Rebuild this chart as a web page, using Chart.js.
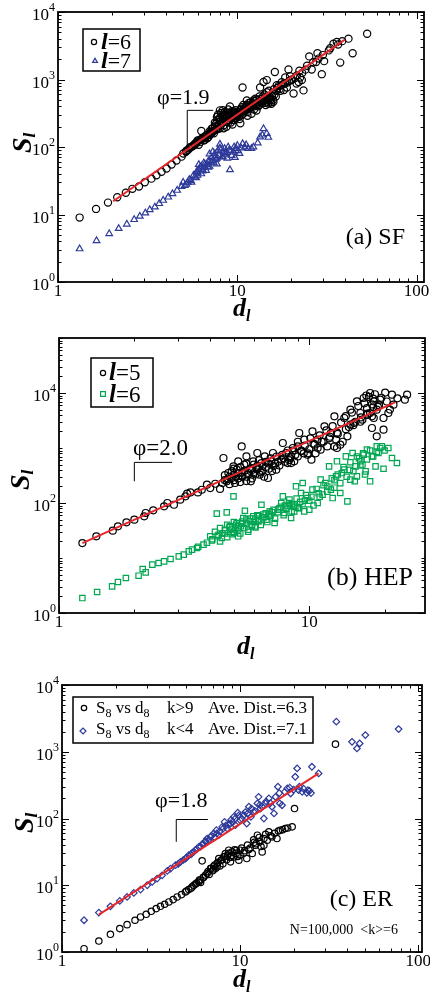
<!DOCTYPE html>
<html>
<head>
<meta charset="utf-8">
<script src="https://cdn.jsdelivr.net/npm/chart.js@4/dist/chart.umd.min.js"></script>
<style>
  body { margin: 0; background: #fff; }
  canvas { position: absolute; left: 0; }
</style>
</head>
<body>
<canvas id="sf" width="430" height="330" style="top:0"></canvas>
<canvas id="hep" width="430" height="330" style="top:330px"></canvas>
<canvas id="er" width="430" height="339" style="top:660px"></canvas>
<script>
// (a) SF, l=6
const sfD6 = [1.32,1.63,1.90,2.14,2.39,2.60,2.83,3.05,3.32,3.54,3.78,4.03,4.30,4.58,4.89,5.17,5.44,5.8,6.2,6.3,7.2,6.6,7.0,8.0,9.1,7.7,8.0,8.5,8.7,9.5,9.9,10.4,10.7,11.3,11.5,12.3,12.0,12.8,13.4,14.0,14.6,14.6,14.0,15.2,15.5,15.9,16.2,16.6,17.7,18.5,18.9,19.3,20.6,19.7,21.4,22.4,22.9,23.4,22.2,25.2,26.0,27.5,28.4,28,29.6,30.5,32.4,34.4,35.9,37.5,41.7,44,53,
  5.0,5.3,5.5,5.7,5.9,6.0,6.1,6.4,6.5,6.8,6.9,7.1,7.3,7.4,7.5,7.6,7.8,7.9,8.1,8.2,8.3,8.4,8.6,8.8,8.9,9.0,9.2,9.3,9.4,9.6,9.7,9.8,10.0,10.2,10.3,10.5,10.6,10.8,11.0,11.2,11.4,11.6,11.8,12.1,12.4,12.6,12.9,13.1,13.3,13.6,13.8,14.2,14.4,14.8,15.0,15.3,15.7,16.0,16.4,17.0,17.4,18.0,18.2,19.0,20.0,21.0,23.0,24.0,
  5.2,5.4,5.6,5.8,6.0,6.2,6.3,6.5,6.6,6.7,6.8,7.0,7.0,7.2,7.3,7.4,7.5,7.6,7.7,7.7,7.8,7.9,8.0,8.0,8.1,8.2,8.3,8.3,8.4,8.5,8.5,8.6,8.7,8.8,8.9,9.0,9.0,9.1,9.2,9.3,9.4,9.5,9.6,9.7,9.8,9.9,10.0,10.1,10.2,10.4,10.5,10.6,10.7,10.8,11.0,11.1,11.3,11.4,11.6,11.7,11.9,12.0,12.2,12.4,12.5,12.7,12.9,13.0,13.2,13.4,13.5,13.7,13.9,14.1,14.3,14.5,14.7,14.9,15.1,15.4,15.6,15.8,16.1,16.5,16.8,17.2,17.6,18.4,19.5,20.2,21.5,22.0,24.5,26.5,30.0,33.0,36.5,38.5];
const sfS6 = [9.0,12.1,15,18,21,24,26,30,34,38,43,48,55,63,72,85,98,112,128,173,187,141,158,349,398,278,234,294,199,251,310,224,760,490,389,490,310,347,760,918,980,650,490,550,437,467,1290,820,910,1070,760,1410,620,1120,870,1070,980,690,1350,2200,1410,1820,2040,2450,1200,1870,2700,3400,3600,1780,4030,2450,4770,
  80,90,100,105,115,120,108,135,125,150,140,165,170,160,200,220,185,260,210,300,245,190,270,320,230,280,260,340,215,300,270,350,290,330,260,370,300,420,340,400,290,450,380,420,360,520,430,400,560,460,520,600,420,560,680,500,620,720,560,800,680,850,700,900,980,1050,1250,1400,
  88,95,102,108,125,118,130,140,128,150,135,170,150,160,190,175,230,180,250,200,300,215,270,190,320,230,280,350,210,260,330,300,240,280,360,250,320,290,230,300,270,340,250,320,290,270,330,300,280,350,320,390,340,310,380,350,420,330,400,370,460,390,440,400,480,420,500,460,420,510,470,440,560,480,450,530,470,440,520,460,560,500,600,680,750,720,820,880,950,1000,1150,920,1600,1800,2300,2900,3300,3700];
// (a) SF, l=7
const sfD7 = [1.32,1.64,1.93,2.18,2.42,2.66,2.86,3.07,3.25,3.47,3.67,3.86,4.12,4.35,4.62,4.89,4.99,5.2,5.56,5.8,5.93,6.2,6.3,6.6,6.7,6.9,7.0,7.3,7.5,7.7,7.8,8.0,8.2,8.4,8.9,9.1,9.3,9.5,9.9,10.3,10.7,11,12.3,13.4,14.0,14.6,14.9,8.0,7.3,6.0,6.4,7.1,7.6,8.6,9.0,9.7,10.0,11.5,5.4,5.1,6.1,
  5.3,5.5,5.7,5.9,6.0,6.1,6.3,6.4,6.5,6.6,6.8,6.9,7.0,7.2,7.4,7.5,7.7,7.9,8.1,8.3,8.5,8.7,8.8,9.2,9.6,10.1,10.5,11.2,12.0,13.0,13.8];
const sfS7 = [3.1,4.1,5.2,6.2,7.2,8.4,9.4,10.5,11.8,12.9,14.5,16.2,18.1,20.3,22.8,26,30,28,30,36,43,50,40,56,45,50,79,63,71,56,89,110,71,85,100,46,75,84,94,80,112,100,100,141,187,158,139,97,85,38,47,60,66,78,90,70,105,95,33,27,55,
  30,32,38,35,42,46,52,44,58,50,55,62,52,70,58,80,68,75,90,72,95,82,68,88,100,88,97,108,95,115,150];
const sfFitD = [2.03, 39.8];
const sfFitS = [15.7, 3890];
const sfSlopeD = [5.26, 5.26, 7.34];
const sfSlopeS = [106, 349, 349];

// (b) HEP, l=5
const hepD5 = [1.24,1.41,1.64,1.72,1.86,2.0,2.19,2.22,2.38,2.63,2.71,2.88,3.05,3.2,3.25,3.35,3.59,3.72,3.90,4.02,4.21,4.40,4.54,4.68,4.75,4.90,4.98,5.05,5.13,5.2,5.37,5.37,5.5,5.61,5.7,5.84,5.97,6.15,6.34,6.44,6.64,6.84,7.05,7.16,7.38,7.73,7.84,8.08,8.2,8.46,8.71,8.99,9.12,9.27,9.55,9.84,10.2,10.3,10.5,10.8,11.1,11.5,11.8,12.2,12.6,12.8,12.9,13.3,13.8,14.2,14.6,14.6,15.1,15.5,16.0,16.3,16.5,17.0,17.5,17.8,17.8,18.1,18.6,18.6,19.2,19.8,19.8,20.1,20.7,21.4,21.7,24.1,24.6,17.5,18.1,12.6,8.46,6.2,
  4.6,4.8,5.0,5.2,5.4,5.6,5.9,6.0,6.2,6.5,6.7,6.9,7.2,7.5,7.9,8.3,8.6,9.0,9.5,10.0,10.6,11.2,12.0,13.0,14.0,15.0,16.0,17.0,18.0,19.0,
  4.5,4.6,4.7,4.8,4.9,5.0,5.0,5.1,5.2,5.3,5.3,5.4,5.5,5.6,5.6,5.7,5.8,5.9,6.0,6.1,6.2,6.3,6.4,6.5,6.6,6.7,6.9,7.0,7.1,7.3,7.4,7.6,7.8,8.0,8.2,8.4,8.6,8.8,9.0,9.3,9.6,9.9,10.1,10.4,10.8,11.0,11.4,11.7,12.1,12.4,12.9,13.4,13.6,14.0,14.4,14.8,15.3,15.7,16.1,16.6,17.1,17.3,17.8,18.3,18.8,19.4,20.4,21.0,22.5,16.9,18.0];
const hepS5 = [18.7,24.8,31.4,37.7,44.5,49.8,57.3,65.8,73.6,87,100,93,115,132,148,156,156,174,215,187,224,180,658,248,351,285,464,231,404,573,1070,305,498,705,351,248,573,433,327,533,705,285,573,811,404,614,1233,811,533,705,573,1070,1875,869,1418,757,614,2010,1150,1418,933,2476,1070,1875,3767,1418,1000,1150,3510,1630,4980,2650,2850,7050,4330,3270,8110,5330,10000,3767,2310,7050,4980,1630,7570,3510,2150,10200,4330,9330,6140,7570,9330,4330,3510,1070,533,811,
  260,300,330,280,360,300,400,350,480,380,450,520,470,560,650,600,900,700,800,950,800,1300,1500,1800,2200,2600,3000,4000,5500,6000,
  230,320,270,220,380,260,420,300,350,240,450,300,380,250,520,330,420,280,500,330,410,600,360,470,300,560,420,650,380,520,700,480,750,560,900,650,1000,750,1300,900,1100,800,1500,1200,1000,1700,1300,2100,1600,2500,1900,2900,1300,3800,2400,4400,3000,5800,3600,6500,4200,8500,6200,9500,5600,8200,7000,5000,8000,9000,7900];
// (b) HEP, l=6
const hepD6 = [1.24,1.42,1.63,1.72,1.85,2.08,2.16,2.22,2.36,2.50,2.63,2.79,3.01,3.15,3.30,3.40,3.56,3.78,4.02,4.08,4.27,4.34,4.47,4.61,4.68,4.82,4.98,4.98,5.13,5.2,5.33,5.45,5.53,5.7,5.79,5.97,6.06,6.25,6.44,6.54,6.74,6.95,7.27,7.5,7.73,7.84,7.96,8.2,8.33,8.46,8.71,8.85,8.99,9.27,9.41,9.55,9.84,10,10.3,10.8,11.1,11.3,11.6,12.0,12.2,12.4,12.8,12.9,13.3,13.8,14.0,14.2,14.6,14.9,15.3,15.5,16.0,16.5,16.8,17.0,17.5,17.8,18.4,18.6,18.9,19.5,20.7,21.4,22.4,
  4.2,4.4,4.6,4.7,4.9,5.0,5.2,5.4,5.6,5.9,6.1,6.3,6.6,6.9,7.1,7.6,8.0,8.5,8.8,9.2,9.6,10.2,10.9,11.8,12.6,13.5,14.5,15.8,16.3,
  3.6,3.9,4.1,4.3,4.4,4.5,4.6,4.7,4.8,4.9,5.0,5.1,5.2,5.3,5.4,5.5,5.6,5.7,5.8,5.9,6.0,6.1,6.2,6.3,6.4,6.5,6.7,6.8,7.0,7.2,7.3,7.5,7.7,7.9,8.1,8.3,8.5,8.7,8.9,9.1,9.4,9.7,10.0,10.4,10.7,11.0,11.4,11.8,12.3,12.6,13.0,13.3,13.7,14.1,14.6,15.0,15.5,16.0,16.4,17.0,17.5,18.0,18.6,19.2,20.0,16.7,15.2,19.8];
const hepS6 = [1.87,2.41,3.05,3.66,4.33,4.77,6.3,5.48,7.57,8.11,8.69,9.6,10.7,11.5,13.2,14.2,15.2,17.5,24.8,20.9,64,26.5,23.1,32.7,67.6,37.7,132,28.5,43.3,24.8,37.7,53.3,72.4,32.7,46.4,57.3,37.7,46.4,93,61.4,49.8,70.5,43.3,75.7,100,132,65.8,87,115,53.3,70.5,201,81,152,231,70.5,123,75.7,175,100,266,142,231,464,175,123,305,573,152,404,705,107,266,811,464,305,573,757,376,933,248,705,464,1070,811,1070,1000,658,533,
  30,35,28,40,33,45,38,42,50,40,52,58,55,62,68,80,90,95,85,105,110,130,150,200,260,350,400,650,500,
  16,19,22,25,20,28,32,24,36,27,30,40,33,28,46,35,42,30,52,38,45,36,60,48,40,55,65,45,58,75,52,68,85,60,78,100,70,90,120,80,95,140,110,90,180,130,210,160,280,190,330,230,450,300,550,380,700,480,800,620,900,700,850,1000,900,330,250,420];
const hepFitD = [1.24, 22.0];
const hepFitS = [18.7, 6760];
const hepSlopeD = [2.0, 2.0, 2.83];
const hepSlopeS = [248, 548, 548];

// (c) ER, k>9
const erD9 = [1.33,1.61,1.87,2.11,2.32,2.57,2.76,2.97,3.17,3.38,3.57,3.77,3.98,4.21,4.43,4.69,4.93,5.15,5.38,5.62,5.86,6.12,6.25,6.53,6.82,7.11,7.43,7.59,7.82,8.09,8.27,8.63,8.83,9.02,9.21,9.53,9.84,10.0,10.5,10.9,11.2,11.7,12.2,12.5,12.9,13.3,13.6,14.2,14.5,15.1,16.1,16.8,17.9,19.6,20.2,34.3,12,13.6,10,7.43,7.1,6,8.5,
  5.0,5.3,5.5,5.7,5.9,6.0,6.2,6.4,6.6,6.7,6.9,7.0,7.2,7.3,7.5,7.7,7.9,8.0,8.2,8.4,8.6,8.8,9.0,9.3,9.5,9.7,10.2,10.6,11.0,11.4,11.9,12.3,12.8,13.1,13.9,14.8,15.6,16.4,17.3,18.5];
const erS9 = [1.12,1.46,1.84,2.24,2.57,2.99,3.35,3.67,4.07,4.47,4.84,5.19,5.62,6.1,6.68,7.24,7.94,8.6,9.44,10.4,11.2,23.2,13.3,15,17.8,19.3,21.1,25.1,23.7,26.6,29.9,33.5,22.4,31.6,26.6,33.5,23.7,28.2,30.5,25.1,34.3,29.9,39.8,56.2,44.7,31.6,50.1,47.3,63.1,53.1,50.1,66.8,70.8,75,141,1300,44,39.8,33.5,19,17,12,28,
  8.2,9.0,10.0,10.8,12.0,11.0,13.0,14.2,16.0,14.5,18.0,16.5,20.0,18.0,22.0,19.5,24.0,21.0,27.0,24.0,30.0,26.0,28.0,34.0,30.0,27.0,36.0,33.0,40.0,36.0,48.0,42.0,52.0,38.0,58.0,55.0,60.0,65.0,68.0,72.0];
// (c) ER, k<4
const erD4 = [1.33,1.61,1.87,2.11,2.32,2.53,2.76,3.01,3.21,3.42,3.65,3.90,4.07,4.34,4.63,4.93,5.15,5.38,5.62,5.86,6.12,6.39,6.53,6.82,7.11,7.36,7.59,7.93,8.17,8.45,8.83,9.21,9.41,9.7,10.0,10.5,10.9,11.2,11.5,11.9,12.5,12.7,13.0,13.6,13.9,14.5,15.1,15.5,16.3,16.7,17.2,18.4,19.2,20.4,20.9,21.3,22.3,23.7,25.3,27.6,24,34.7,42.5,45.3,46.9,50.5,77.6,
  4.5,4.8,5.0,5.3,5.5,5.7,6.0,6.2,6.4,6.7,6.9,7.2,7.4,7.7,8.0,8.3,8.6,8.9,9.1,9.4,9.8,10.2,10.7,11.0,11.6,12.1,12.9,13.3,14.0,14.8,15.8,16.6,17.8,19.0,20.0,21.5,22.7,24.5,25.0];
const erS4 = [2.99,3.89,4.84,5.82,6.68,7.67,8.6,10,11.2,12.6,14.1,16.4,17.8,20,22.4,25.1,28.2,30.5,33.5,37.6,41.2,44.7,50.1,53.1,59.6,66.8,56.2,75,89.1,70.8,84.1,106,79.4,122,94.4,112,84.1,150,106,126,168,211,141,100,168,200,150,119,299,168,158,282,237,422,562,266,251,243,596,473,266,2820,1410,1120,1330,1780,2190,
  21,24,26,29,32,35,38,42,46,48,55,52,60,64,70,78,80,95,88,100,110,100,125,118,140,130,160,150,180,170,210,240,250,290,270,300,280,260,240];
const erFitD = [1.61, 27.6];
const erFitS = [3.63, 473];
const erSlopeD = [4.38, 4.38, 6.59];
const erSlopeS = [44.7, 96.6, 96.6];

const BLUE = '#2e3a9a';
const GREEN = '#00a651';
const RED = '#e8262a';
const SERIF = "'Liberation Serif', 'Times New Roman', serif";

function pts(d, s) { return d.map((v, i) => ({ x: v, y: s[i] })) }

function marks(d, s, style, color, r) {
  return { data: pts(d, s), pointStyle: style, pointRadius: r, pointHoverRadius: r,
    pointBorderColor: color, pointBackgroundColor: 'rgba(0,0,0,0)', pointBorderWidth: 1.2,
    showLine: false, order: 2 }
}

function line(d, s, color, w, order) {
  return { data: pts(d, s), borderColor: color, borderWidth: w, pointRadius: 0,
    showLine: true, fill: false, tension: 0, order: order }
}

function logTicks(min, max, isMajor) {
  const out = []
  for (let e = Math.floor(Math.log10(min)); e <= Math.ceil(Math.log10(max)); e++) {
    for (let m = 1; m < 10; m++) {
      const v = m * Math.pow(10, e)
      if (v >= min * 0.999 && v <= max * 1.001) out.push([v, m === 1 && isMajor(e)])
    }
  }
  return out
}

// draw a row of text pieces: [text, font, dy]
function rich(ctx, x, y, parts) {
  parts.forEach(([t, f, dy]) => {
    ctx.font = f
    ctx.fillText(t, x, y + (dy || 0))
    x += ctx.measureText(t).width
  })
  return x
}

function marker(ctx, style, x, y, r, color) {
  ctx.save()
  ctx.strokeStyle = color
  ctx.fillStyle = 'rgba(0,0,0,0)'
  ctx.lineWidth = 1.2
  Chart.helpers.drawPoint(ctx, { pointStyle: style, radius: r, borderWidth: 1.2 }, x, y)
  ctx.restore()
}

function deco(cfg) {
  return {
    id: 'deco',
    afterDatasetsDraw(chart) {
      const { ctx, chartArea: a, scales: { x, y } } = chart
      ctx.save()
      ctx.strokeStyle = '#000'
      ctx.lineWidth = 1
      ctx.beginPath()
      logTicks(x.min, x.max, () => true).forEach(([v, major]) => {
        const p = Math.round(x.getPixelForValue(v)) + 0.5
        const len = major ? 7 : 3.5
        ctx.moveTo(p, a.bottom); ctx.lineTo(p, a.bottom - len)
        ctx.moveTo(p, a.top); ctx.lineTo(p, a.top + len)
      })
      logTicks(y.min, y.max, cfg.yMajor).forEach(([v, major]) => {
        const p = Math.round(y.getPixelForValue(v)) + 0.5
        const len = major ? 7 : 3.5
        ctx.moveTo(a.left, p); ctx.lineTo(a.left + len, p)
        ctx.moveTo(a.right, p); ctx.lineTo(a.right - len, p)
      })
      ctx.stroke()
      ctx.lineWidth = 1.8
      ctx.strokeRect(a.left, a.top, a.right - a.left, a.bottom - a.top)

      ctx.fillStyle = '#000'
      // x tick labels
      ctx.textAlign = 'center'
      ctx.textBaseline = 'alphabetic'
      ctx.font = '17px ' + SERIF
      cfg.xTicks.forEach(v => ctx.fillText(String(v), x.getPixelForValue(v), a.bottom + 14))
      // y tick labels 10^n
      ctx.textAlign = 'left'
      cfg.yExp.forEach(e => {
        const p = y.getPixelForValue(Math.pow(10, e))
        ctx.font = '12px ' + SERIF
        const ws = ctx.measureText(String(e)).width
        ctx.font = '17px ' + SERIF
        const w = ctx.measureText('10').width
        const x0 = a.left - 3 - ws - w
        rich(ctx, x0, p + 8, [['10', '17px ' + SERIF], [String(e), '12px ' + SERIF, -9]])
      })
      // axis titles
      rich(ctx, cfg.dl[0], cfg.dl[1], [['d', 'bold italic 26px ' + SERIF], ['l', 'bold italic 16px ' + SERIF, 5]])
      ctx.save()
      ctx.translate(cfg.sl[0], cfg.sl[1])
      ctx.rotate(-Math.PI / 2)
      rich(ctx, 0, 0, [['S', 'bold italic 28px ' + SERIF], ['l', 'bold italic 17px ' + SERIF, 4]])
      ctx.restore()
      cfg.extra(ctx, a)
      ctx.restore()
    }
  }
}

function makeChart(id, datasets, xr, yr, pad, cfg) {
  return new Chart(document.getElementById(id), {
    type: 'scatter',
    data: { datasets },
    options: {
      responsive: false,
      animation: false,
      layout: { padding: { top: pad.t, right: pad.r, left: 0, bottom: 0 } },
      plugins: { legend: { display: false }, tooltip: { enabled: false } },
      scales: {
        x: { type: 'logarithmic', min: xr[0], max: xr[1],
          ticks: { display: false }, grid: { display: false }, border: { display: false },
          afterFit: s => { s.height = pad.b } },
        y: { type: 'logarithmic', min: yr[0], max: yr[1],
          ticks: { display: false }, grid: { display: false }, border: { display: false },
          afterFit: s => { s.width = pad.l } }
      }
    },
    plugins: [deco(cfg)]
  })
}

function legendBox(ctx, x0, y0, x1, y1) {
  ctx.lineWidth = 1.5
  ctx.strokeStyle = '#000'
  ctx.strokeRect(x0, y0, x1 - x0, y1 - y0)
}

// (a)
makeChart('sf', [
  line(sfFitD, sfFitS, RED, 2, 0),
  line(sfSlopeD, sfSlopeS, '#000', 1, 1),
  marks(sfD6, sfS6, 'circle', '#000', 3.6),
  marks(sfD7, sfS7, 'triangle', BLUE, 3.8)
], [1, 110], [1, 10000], { l: 58, t: 12, r: 6, b: 48 }, {
  xTicks: [1, 10, 100], yExp: [0, 1, 2, 3, 4], yMajor: () => true,
  dl: [233, 316], sl: [31, 153],
  extra(ctx) {
    ctx.font = '22px ' + SERIF
    ctx.fillText('\u03c6=1.9', 157, 104)
    ctx.font = '24px ' + SERIF
    ctx.textAlign = 'right'
    ctx.fillText('(a) SF', 405, 244)
    ctx.textAlign = 'left'
    legendBox(ctx, 83, 29, 140, 71)
    marker(ctx, 'circle', 94, 42, 2.6, '#000')
    marker(ctx, 'triangle', 95, 61, 2.8, BLUE)
    ctx.fillStyle = '#000'
    rich(ctx, 101, 49, [['l', 'bold italic 24px ' + SERIF], ['=6', '22px ' + SERIF]])
    rich(ctx, 101, 68, [['l', 'bold italic 24px ' + SERIF], ['=7', '22px ' + SERIF]])
  }
})

// (b)
makeChart('hep', [
  line(hepFitD, hepFitS, RED, 2, 0),
  line(hepSlopeD, hepSlopeS, '#000', 1, 1),
  marks(hepD5, hepS5, 'circle', '#000', 3.5),
  marks(hepD6, hepS6, 'rect', GREEN, 3.8)
], [1, 29], [1, 100000], { l: 59, t: 8, r: 1, b: 47 }, {
  xTicks: [1, 10], yExp: [0, 2, 4], yMajor: e => e % 2 === 0,
  dl: [237, 324], sl: [29, 160],
  extra(ctx) {
    ctx.font = '23px ' + SERIF
    ctx.fillText('\u03c6=2.0', 133, 125)
    ctx.font = '26px ' + SERIF
    ctx.textAlign = 'right'
    ctx.fillText('(b) HEP', 413, 255)
    ctx.textAlign = 'left'
    legendBox(ctx, 91, 28, 153, 77)
    marker(ctx, 'circle', 103, 43, 2.6, '#000')
    marker(ctx, 'rect', 103, 64, 3.4, GREEN)
    ctx.fillStyle = '#000'
    rich(ctx, 109, 50, [['l', 'bold italic 25px ' + SERIF], ['=5', '23px ' + SERIF]])
    rich(ctx, 109, 72, [['l', 'bold italic 25px ' + SERIF], ['=6', '23px ' + SERIF]])
  }
})

// (c)
makeChart('er', [
  line(erFitD, erFitS, RED, 2, 0),
  line(erSlopeD, erSlopeS, '#000', 1, 1),
  marks(erD9, erS9, 'circle', '#000', 3.2),
  marks(erD4, erS4, 'rectRot', BLUE, 3.3)
], [1, 105], [1, 10000], { l: 62, t: 25, r: 8, b: 47 }, {
  xTicks: [1, 10, 100], yExp: [0, 1, 2, 3, 4], yMajor: () => true,
  dl: [233, 327], sl: [33, 173],
  extra(ctx) {
    ctx.font = '22px ' + SERIF
    ctx.fillText('\u03c6=1.8', 155, 147)
    ctx.font = '24px ' + SERIF
    ctx.textAlign = 'right'
    ctx.fillText('(c) ER', 393, 246)
    ctx.font = '14px ' + SERIF
    ctx.fillText('N=100,000  <k>=6', 398, 274)
    ctx.textAlign = 'left'
    legendBox(ctx, 73, 37, 313, 83)
    marker(ctx, 'circle', 84, 48, 2.7, '#000')
    marker(ctx, 'rectRot', 83, 71, 3, BLUE)
    ctx.fillStyle = '#000'
    const f = '17px ' + SERIF, fs = '12px ' + SERIF
    const rows = [[53, 'k>9', 'Ave. Dist.=6.3'], [74, 'k<4', 'Ave. Dist.=7.1']]
    rows.forEach(([yb, k, ave]) => {
      rich(ctx, 96, yb, [['S', f], ['8', fs, 4], [' vs d', f], ['8', fs, 4]])
      rich(ctx, 167, yb, [[k, f]])
      rich(ctx, 208, yb, [[ave, f]])
    })
  }
})
</script>
</body>
</html>
